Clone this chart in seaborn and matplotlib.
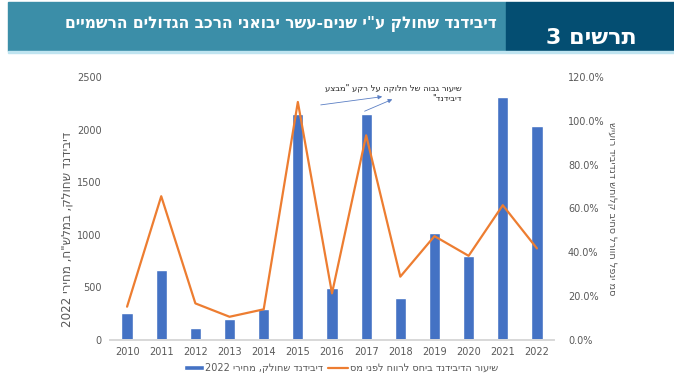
import re
import numpy as np
import pandas as pd
import matplotlib
matplotlib.use("Agg")
import matplotlib.pyplot as plt
import seaborn as sns
from matplotlib.patches import Rectangle
from matplotlib.ticker import PercentFormatter

# data
years = ['2010', '2011', '2012', '2013', '2014', '2015', '2016',
         '2017', '2018', '2019', '2020', '2021', '2022']
dividend = [255, 665, 117, 200, 291, 2152, 494, 2146, 402, 1013, 797, 2310, 2032]  # NIS m, 2022 prices
payout = [15.2, 65.6, 16.7, 10.6, 14.0, 108.6, 21.3, 93.4, 28.9, 47.4, 38.4, 61.5, 41.8]  # % of pre-tax profit

title = 'דיבידנד שחולק ע"י שנים-עשר יבואני הרכב הגדולים הרשמיים'
fig_no = 'תרשים 3'
ylab_left = 'דיבידנד שחולק, במלש"ח, מחירי 2022'
ylab_right = 'שיעור דיבידנד שחולק ביחס לרווח לפני מס'
leg_bar = 'דיבידנד שחולק, מחירי 2022'
leg_line = 'שיעור הדיבידנד ביחס לרווח לפני מס'
note = ['שיעור גבוה של חלוקה על רקע "מבצע', 'דיבידנד"']


def vis(s):
    # matplotlib has no bidi: reverse hebrew, keep digit runs readable
    r = s[::-1]
    return re.sub(r'\d+', lambda m: m.group(0)[::-1], r)


sns.set_theme(style="white")
plt.rcParams['font.family'] = ['DejaVu Sans']
gray = '#595959'
blue = '#4472C4'
orange = '#ED7D31'

df = pd.DataFrame({'year': years, 'dividend': dividend, 'payout': payout})

fig = plt.figure(figsize=(6.74, 3.84), dpi=100)
ax = fig.add_axes([110/674, 1 - 340/384, 444/674, 263/384])

sns.barplot(data=df, x='year', y='dividend', color=blue, saturation=1,
            width=0.33, ax=ax, label=vis(leg_bar))
ax.set_ylim(0, 2500)
ax.set_xlim(-0.5, 12.5)
ax.set_yticks(np.arange(0, 2501, 500))
ax.set_xlabel('')
ax.set_ylabel(vis(ylab_left), color=gray, fontsize=8.6)
ax.yaxis.set_label_coords(-0.082, 0.42)
ax.tick_params(axis='both', length=0, labelsize=7, labelcolor=gray)
ax.tick_params(axis='x', pad=5)
ax.tick_params(axis='y', pad=6)

ax2 = ax.twinx()
sns.lineplot(x=np.arange(len(years)), y=df['payout'], color=orange, lw=1.6,
             ax=ax2, label=vis(leg_line))
ax2.set_ylim(0, 120)
ax2.set_yticks(np.arange(0, 121, 20))
ax2.yaxis.set_major_formatter(PercentFormatter(decimals=1))
ax2.set_ylabel(ylab_right, color=gray, fontsize=7, rotation=270)
ax2.yaxis.set_label_coords(1.143, 0.5)
ax2.tick_params(axis='y', length=0, labelsize=7, labelcolor=gray, pad=10)
ax2.set_xlim(-0.5, 12.5)

for a in (ax, ax2):
    for side in ('top', 'left', 'right'):
        a.spines[side].set_visible(False)
    a.spines['bottom'].set_color('#d9d9d9')
    a.grid(False)

ax2.get_legend().remove()
h1, l1 = ax.get_legend_handles_labels()
h2, l2 = ax2.get_legend_handles_labels()
ax.legend(h1 + h2, l1 + l2, ncol=2, frameon=False, fontsize=7,
          labelcolor=gray, loc='center', bbox_to_anchor=(0.506, 0.042),
          bbox_transform=fig.transFigure, handlelength=2.0, handleheight=0.5,
          columnspacing=0.5, handletextpad=0.2)

# annotation about the 2015 / 2017 "dividend campaign"
ax2.text(9.8, 114.9, vis(note[0]), ha='right', va='center', fontsize=6, color='#262626')
ax2.text(9.8, 110.3, vis(note[1]), ha='right', va='center', fontsize=6, color='#262626')
arrow = dict(arrowstyle='-|>', color='#5b7fc4', lw=0.6, mutation_scale=6)
ax2.annotate('', xy=(7.55, 111.2), xytext=(5.59, 107.1), arrowprops=arrow)
ax2.annotate('', xy=(7.84, 110.3), xytext=(6.88, 103.9), arrowprops=arrow)

# header band
fig.patches.append(Rectangle((8/674, 1 - 51/384), 498/674, 49/384,
                             transform=fig.transFigure, color='#3B8EA8', zorder=0))
fig.patches.append(Rectangle((506/674, 1 - 51/384), 168/674, 49/384,
                             transform=fig.transFigure, color='#044E72', zorder=0))
fig.patches.append(Rectangle((8/674, 1 - 53/384), 666/674, 2/384,
                             transform=fig.transFigure, color='#bfe4f0', zorder=0))
fig.text(497/674, 1 - 24/384, vis(title), ha='right', va='center', color='white',
         fontsize=11.2, fontweight='bold')
fig.text(637/674, 1 - 38/384, vis(fig_no), ha='right', va='center', color='white',
         fontsize=16, fontweight='bold')

fig.savefig('out.png', dpi=100)
